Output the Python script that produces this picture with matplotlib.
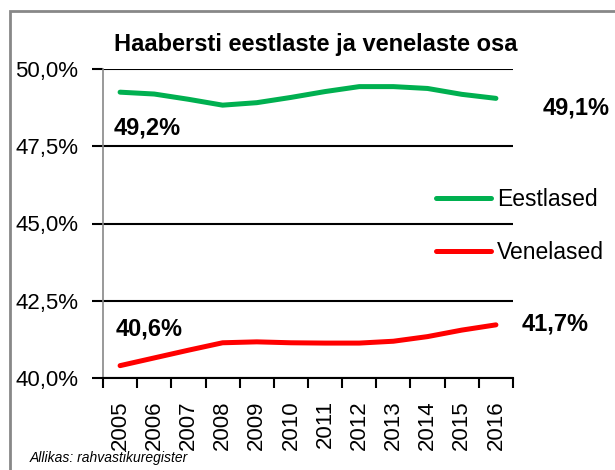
import matplotlib
matplotlib.use("Agg")
import matplotlib.pyplot as plt
from matplotlib.patches import Rectangle

years = ["2005", "2006", "2007", "2008", "2009", "2010",
         "2011", "2012", "2013", "2014", "2015", "2016"]
eestlased = [49.25, 49.19, 49.02, 48.83, 48.91, 49.08,
             49.27, 49.43, 49.43, 49.37, 49.18, 49.05]
venelased = [40.40, 40.65, 40.90, 41.14, 41.17, 41.14,
             41.13, 41.13, 41.19, 41.34, 41.55, 41.72]
yticks = [40.0, 42.5, 45.0, 47.5, 50.0]

plt.rcParams['font.family'] = ['Liberation Sans', 'DejaVu Sans']

fig = plt.figure(figsize=(6.15, 4.7), dpi=100)
ax = fig.add_axes([103 / 615, 1 - 378 / 470, 410 / 615, 309 / 470])

x = list(range(len(years)))
ax.plot(x, eestlased, color='#00b050', lw=3.6, solid_capstyle='round', label='Eestlased')
ax.plot(x, venelased, color='#ff0000', lw=3.6, solid_capstyle='round', label='Venelased')

ax.set_xlim(-0.5, len(years) - 0.5)
ax.set_ylim(40, 50)
ax.set_yticks(yticks)
ax.set_yticklabels([f"{v:.1f}%".replace('.', ',') for v in yticks], fontsize=16)
ax.set_xticks(x)
ax.set_xticklabels(years, rotation=90, fontsize=16)
ax.set_xticks([i - 0.5 for i in range(len(years) + 1)], minor=True)
ax.tick_params(axis='x', which='major', length=0, pad=16)
ax.tick_params(axis='x', which='minor', length=7, width=1.5, direction='out')
ax.tick_params(axis='y', length=8, width=1.5, direction='out', pad=10)

ax.grid(axis='y', color='black', lw=1.5)
ax.set_axisbelow(True)
for s in ['top', 'right']:
    ax.spines[s].set_visible(False)
ax.spines['left'].set_color('#888888')
ax.spines['left'].set_linewidth(1.2)
ax.spines['bottom'].set_linewidth(1.5)

ax.text(-0.2, 48.09, "49,2%", fontsize=17, fontweight='bold', va='center', ha='left')
ax.text(12.38, 48.74, "49,1%", fontsize=17, fontweight='bold', va='center', ha='left', clip_on=False)
ax.text(-0.12, 41.59, "40,6%", fontsize=17, fontweight='bold', va='center', ha='left')
ax.text(11.76, 41.75, "41,7%", fontsize=17, fontweight='bold', va='center', ha='left', clip_on=False)

leg = ax.legend(loc='upper left', bbox_to_anchor=(436 / 615, 1 - 188 / 470),
                bbox_transform=fig.transFigure, frameon=False, fontsize=16.5,
                handlelength=2.4, handletextpad=0.25, labelspacing=1.3, borderpad=0,
                borderaxespad=0)

fig.text(316 / 615, 1 - 45 / 470, "Haabersti eestlaste ja venelaste osa",
         fontsize=17, fontweight='bold', ha='center', va='center')
fig.text(30 / 615, 1 - 458 / 470, "Allikas: rahvastikuregister",
         fontsize=10, style='italic', ha='left', va='center')

fig.patches.append(Rectangle((10 / 615, -0.1), 1.2, 1 - 11 / 470 + 0.1,
                             transform=fig.transFigure, fill=False,
                             edgecolor='#888888', lw=2))

fig.savefig("out.png", dpi=100)
